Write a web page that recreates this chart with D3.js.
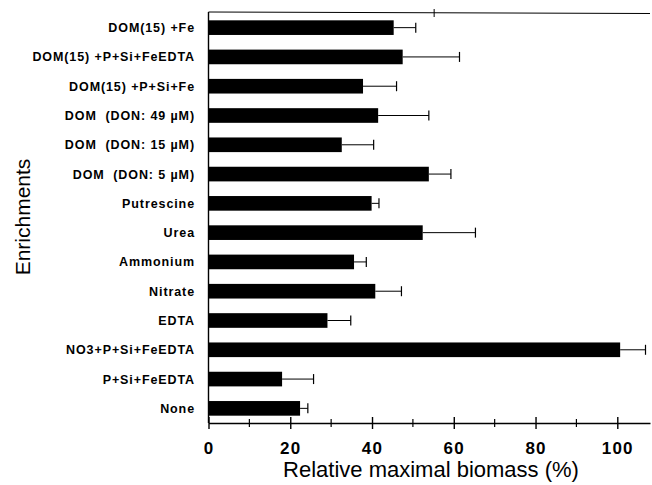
<!DOCTYPE html>
<html>
<head>
<meta charset="utf-8">
<script src="https://cdn.jsdelivr.net/npm/d3@7"></script>
<style>
  body { margin: 0; background: #fff; }
  svg { display: block; }
  text { white-space: pre; }
</style>
</head>
<body>
<svg id="chart" width="652" height="485"></svg>
<script>
const categories = [
    "DOM(15) +Fe",
    "DOM(15) +P+Si+FeEDTA",
    "DOM(15) +P+Si+Fe",
    "DOM  (DON: 49 µM)",
    "DOM  (DON: 15 µM)",
    "DOM  (DON: 5 µM)",
    "Putrescine",
    "Urea",
    "Ammonium",
    "Nitrate",
    "EDTA",
    "NO3+P+Si+FeEDTA",
    "P+Si+FeEDTA",
    "None"
];
const biomass = [45.3, 47.5, 37.8, 41.5, 32.6, 53.9, 39.9, 52.4, 35.6, 40.8, 29.1, 100.7, 18.0, 22.4];
const errorEnd = [50.7, 61.4, 46.0, 53.9, 40.4, 59.3, 41.7, 65.3, 38.6, 47.2, 34.8, 106.9, 25.7, 24.3];
const majorTicks = [0, 20, 40, 60, 80, 100];
const minorTicks = [10, 30, 50, 70, 90];
const topMark = 55.2;

const svg = d3.select("#chart");
const font = "'Liberation Sans', Arial, Helvetica, sans-serif";

const x = d3.scaleLinear().domain([0, 108]).range([208.5, 650]);
const y = d3.scaleBand().domain(categories).range([13, 423]).paddingInner(0.5).paddingOuter(0.25);

const data = categories.map((c, i) => ({ name: c, value: biomass[i], err: errorEnd[i] }));

// frame lines
svg.append("line")
    .attr("x1", x(0)).attr("x2", x(0))
    .attr("y1", 12).attr("y2", 423)
    .attr("stroke", "#000").attr("stroke-width", 1.4);
svg.append("line")
    .attr("x1", x(0)).attr("x2", x(108))
    .attr("y1", 12).attr("y2", 13.5)
    .attr("stroke", "#000").attr("stroke-width", 1);
svg.append("line")
    .attr("x1", x(topMark)).attr("x2", x(topMark))
    .attr("y1", 9).attr("y2", 17)
    .attr("stroke", "#000").attr("stroke-width", 1);

// bottom axis
const xAxis = svg.append("g")
    .attr("transform", "translate(0,423)")
    .call(d3.axisBottom(x).tickValues(majorTicks).tickSize(0).tickPadding(19).tickFormat(d3.format("d")));
xAxis.select(".domain").attr("stroke-width", 1.3);
xAxis.selectAll(".tick text")
    .attr("font-family", font)
    .attr("font-size", 17)
    .attr("font-weight", "bold")
    .attr("letter-spacing", 1.2)
    .attr("fill", "#000");
xAxis.selectAll(".tick").append("line")
    .attr("y1", -6).attr("y2", 6)
    .attr("stroke", "#000").attr("stroke-width", 1.4);
xAxis.selectAll(".minor")
    .data(minorTicks)
    .enter().append("line")
    .attr("x1", d => x(d)).attr("x2", d => x(d))
    .attr("y1", -4).attr("y2", 4)
    .attr("stroke", "#000").attr("stroke-width", 1.2);

// error bars
const eb = svg.append("g");
eb.selectAll("line.err")
    .data(data)
    .enter().append("line")
    .attr("x1", d => x(d.value)).attr("x2", d => x(d.err))
    .attr("y1", d => y(d.name) + y.bandwidth() / 2)
    .attr("y2", d => y(d.name) + y.bandwidth() / 2)
    .attr("stroke", "#000").attr("stroke-width", 1);
eb.selectAll("line.cap")
    .data(data)
    .enter().append("line")
    .attr("x1", d => x(d.err)).attr("x2", d => x(d.err))
    .attr("y1", d => y(d.name) + y.bandwidth() / 2 - 5)
    .attr("y2", d => y(d.name) + y.bandwidth() / 2 + 5)
    .attr("stroke", "#000").attr("stroke-width", 1.2);

// bars
svg.append("g").selectAll("rect")
    .data(data)
    .enter().append("rect")
    .attr("x", x(0))
    .attr("y", d => y(d.name))
    .attr("width", d => x(d.value) - x(0))
    .attr("height", y.bandwidth())
    .attr("fill", "#000");

// category labels
svg.append("g").selectAll("text")
    .data(data)
    .enter().append("text")
    .attr("x", 195)
    .attr("y", d => y(d.name) + y.bandwidth() / 2)
    .attr("dy", "0.36em")
    .attr("text-anchor", "end")
    .attr("font-family", font)
    .attr("font-size", 12.5)
    .attr("font-weight", "bold")
    .attr("letter-spacing", 0.9)
    .text(d => d.name);

// axis titles
svg.append("text")
    .attr("x", 431)
    .attr("y", 477)
    .attr("text-anchor", "middle")
    .attr("font-family", font)
    .attr("font-size", 22)
    .text("Relative maximal biomass (%)");

svg.append("text")
    .attr("transform", "translate(30,217) rotate(-90)")
    .attr("text-anchor", "middle")
    .attr("font-family", font)
    .attr("font-size", 21)
    .text("Enrichments");
</script>
</body>
</html>
